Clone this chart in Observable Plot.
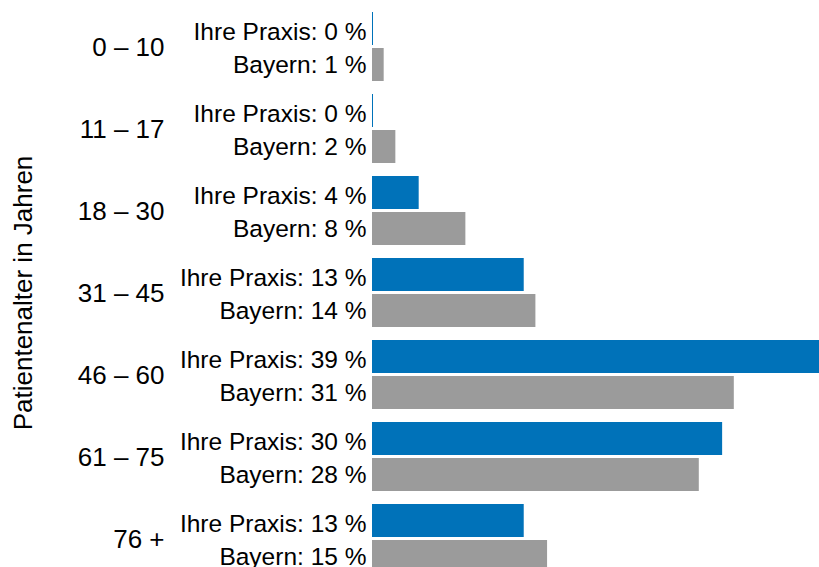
<!DOCTYPE html>
<html>
<head>
<meta charset="utf-8">
<script src="https://cdn.jsdelivr.net/npm/d3@7"></script>
<script src="https://cdn.jsdelivr.net/npm/@observablehq/plot@0.6"></script>
<style>
  html, body { margin: 0; padding: 0; background: #fff; overflow: hidden; }
</style>
</head>
<body>
<div id="chart"></div>
<script>
// Age groups of the patients and the share (%) per group
const ageGroups = ["0 – 10", "11 – 17", "18 – 30", "31 – 45", "46 – 60", "61 – 75", "76 +"];
const praxisShare = [0, 0, 4, 13, 39, 30, 13];
const bayernShare = [1, 2, 8, 14, 31, 28, 15];
const praxisName = "Ihre Praxis";
const bayernName = "Bayern";
const axisTitle = "Patientenalter in Jahren";

const blue = "#0072b9";
const grey = "#9b9b9b";

const praxisRows = ageGroups.map((group, i) => ({group, value: praxisShare[i]}));
const bayernRows = ageGroups.map((group, i) => ({group, value: bayernShare[i]}));

const chart = Plot.plot({
  width: 819,
  height: 573,
  marginTop: 12,
  marginBottom: 0,
  marginLeft: 372,
  marginRight: 0,
  style: {fontFamily: "'Liberation Sans', Arial, sans-serif", color: "#000", background: "#fff"},
  x: {domain: [0, 38.3], axis: null},
  y: {domain: ageGroups, paddingInner: 13 / 82, paddingOuter: 0},
  marks: [
    // practice bar in the upper half of each band, Bavaria in the lower half
    Plot.barX(praxisRows, {y: "group", x: "value", fill: blue, insetBottom: 36}),
    Plot.barX(bayernRows, {y: "group", x: "value", fill: grey, insetTop: 36}),
    // hairline so that a 0 % share is still visible
    Plot.tickX(praxisRows, {y: "group", x: 0, stroke: blue, strokeWidth: 1, insetBottom: 36}),
    Plot.text(praxisRows, {
      y: "group", x: 0, text: d => `${praxisName}: ${d.value} %`,
      textAnchor: "end", dx: -6, dy: -15, fontSize: 24.5, fill: "#000"
    }),
    Plot.text(bayernRows, {
      y: "group", x: 0, text: d => `${bayernName}: ${d.value} %`,
      textAnchor: "end", dx: -6, dy: 18, fontSize: 24.5, fill: "#000"
    }),
    Plot.axisY({
      tickSize: 0, tickPadding: 208, fontSize: 26, dy: 1,
      label: axisTitle, labelAnchor: "center", labelOffset: 359
    })
  ]
});

document.getElementById("chart").append(chart);
</script>
</body>
</html>
